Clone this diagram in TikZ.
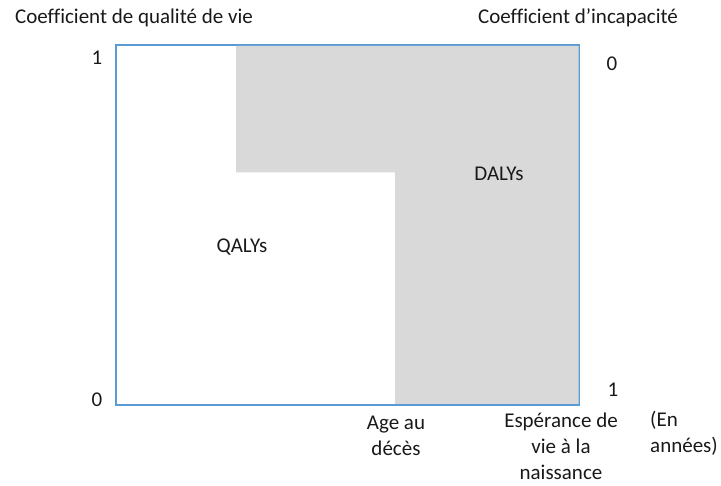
\documentclass[tikz,border=0pt]{standalone}
\usepackage{fontspec}
\setmainfont{Carlito}[Ligatures=NoCommon]
\definecolor{frameblue}{RGB}{91,155,213}
\definecolor{areagray}{RGB}{217,217,217}
\tikzset{
  lbl/.style={inner sep=0pt, font=\fontsize{21}{26.5}\selectfont, text=black!90},
  mlbl/.style={lbl, align=center},
}
\begin{document}
\begin{tikzpicture}[x=1pt,y=-1pt]
\useasboundingbox (0,0) rectangle (721,486);
% frame
\draw[frameblue, line width=1.8pt] (116,45) rectangle (579,405);
% shaded area
\fill[areagray] (236,46) -- (578.5,46) -- (578.5,404) -- (395,404) -- (395,172.5) -- (236,172.5) -- cycle;
\draw[frameblue, line width=1pt] (579,45) -- (579,405);
% texts
\node[lbl] (t1) at (134,18) {Coefficient de qualité de vie};
\node[lbl] (t2) at (578,18) {Coefficient d’incapacité};
\node[lbl] (y1) at (97,58) {1};
\node[lbl] (y0) at (97,400) {0};
\node[lbl] (r0) at (612,64) {0};
\node[lbl] (r1) at (613,390) {1};
\node[lbl] (dalys) at (499,174) {DALYs};
\node[lbl] (qalys) at (242,247) {QALYs};
\node[mlbl, anchor=base] (age) at (396,456) {Age au\\décès};
\node[mlbl, anchor=base] (esp) at (561,480) {Espérance de\\vie à la\\naissance};
\node[lbl, align=left, anchor=base west] (ann) at (650,453) {(En\\années)};
\end{tikzpicture}
\end{document}
